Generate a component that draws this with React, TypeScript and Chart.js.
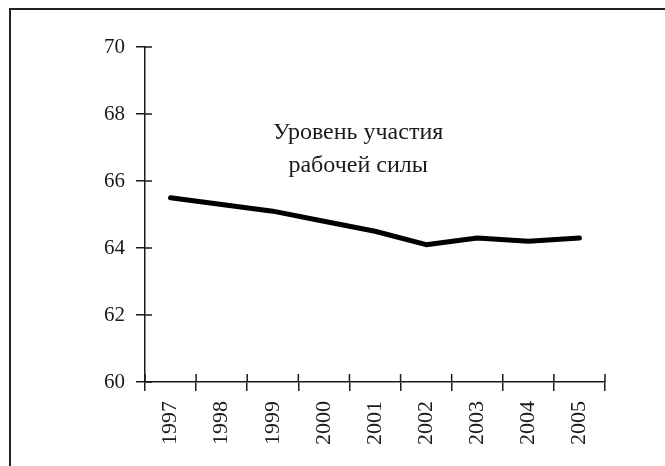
import React, { useEffect, useRef } from "react";
import { Chart, registerables } from "chart.js";

Chart.register(...registerables);

const years = ["1997", "1998", "1999", "2000", "2001", "2002", "2003", "2004", "2005"];
const participation = [65.5, 65.3, 65.1, 64.8, 64.5, 64.1, 64.3, 64.2, 64.3];
const yTicks = [60, 62, 64, 66, 68, 70];
const noteLines = ["Уровень участия", "рабочей силы"];
const noteX = 3.67;
const noteY = [67.45, 66.45];

const FONT = "'Liberation Serif', 'DejaVu Serif', serif";
const INK = "#1a1a1a";

const extras = {
  id: "extras",
  afterDraw(chart: any) {
    const { ctx, chartArea } = chart;
    const xs = chart.scales.x;
    const ys = chart.scales.y;
    ctx.save();
    ctx.strokeStyle = INK;
    ctx.lineWidth = 1.5;
    // inward halves of crossing tick marks
    for (let i = 0; i <= years.length; i++) {
      const px = xs.getPixelForValue(i - 0.5);
      ctx.beginPath();
      ctx.moveTo(px, chartArea.bottom);
      ctx.lineTo(px, chartArea.bottom - 8);
      ctx.stroke();
    }
    for (const v of yTicks) {
      const py = ys.getPixelForValue(v);
      ctx.beginPath();
      ctx.moveTo(chartArea.left, py);
      ctx.lineTo(chartArea.left + 7, py);
      ctx.stroke();
    }
    ctx.fillStyle = INK;
    ctx.font = `24px ${FONT}`;
    ctx.textAlign = "center";
    ctx.textBaseline = "middle";
    const cx = xs.getPixelForValue(noteX);
    noteLines.forEach((t, k) => {
      ctx.fillText(t, cx, ys.getPixelForValue(noteY[k]));
    });
    ctx.restore();
  },
};

export default function App() {
  const ref = useRef<HTMLCanvasElement>(null);
  useEffect(() => {
    if (!ref.current) return;
    const chart = new Chart(ref.current, {
      type: "line",
      data: {
        labels: years,
        datasets: [
          {
            data: participation,
            borderColor: "#000",
            borderWidth: 5,
            borderCapStyle: "round",
            borderJoinStyle: "round",
            pointRadius: 0,
            tension: 0,
            fill: false,
          },
        ],
      },
      options: {
        animation: false,
        responsive: false,
        devicePixelRatio: 1,
        layout: { padding: { top: 47, right: 60, left: 0, bottom: 0 } },
        plugins: { legend: { display: false }, tooltip: { enabled: false } },
        scales: {
          x: {
            type: "category",
            offset: true,
            border: { display: true, color: INK, width: 1.5 },
            grid: {
              display: true,
              offset: true,
              drawOnChartArea: false,
              drawTicks: true,
              tickLength: 9,
              color: INK,
              lineWidth: 1.5,
            },
            ticks: {
              minRotation: 90,
              maxRotation: 90,
              padding: 10,
              color: INK,
              font: { family: FONT, size: 22 },
            },
            afterFit(scale: any) {
              scale.height = 84;
            },
          },
          y: {
            min: 60,
            max: 70,
            border: { display: true, color: INK, width: 1.5 },
            grid: {
              display: true,
              drawOnChartArea: false,
              drawTicks: true,
              tickLength: 9,
              color: INK,
              lineWidth: 1.5,
            },
            ticks: {
              stepSize: 2,
              padding: 11,
              color: INK,
              font: { family: FONT, size: 21 },
            },
            afterFit(scale: any) {
              scale.width = 145;
            },
          },
        },
      },
      plugins: [extras],
    });
    return () => chart.destroy();
  }, []);

  return (
    <div style={{ position: "fixed", left: 0, top: 0, width: 665, height: 466, background: "#fff" }}>
      <canvas ref={ref} width={665} height={466} style={{ position: "absolute", left: 0, top: 0 }} />
      <div
        style={{
          position: "absolute",
          left: 9,
          top: 8,
          width: 656,
          height: 458,
          borderTop: "2px solid #222",
          borderLeft: "2px solid #222",
          boxSizing: "border-box",
          pointerEvents: "none",
        }}
      />
    </div>
  );
}
